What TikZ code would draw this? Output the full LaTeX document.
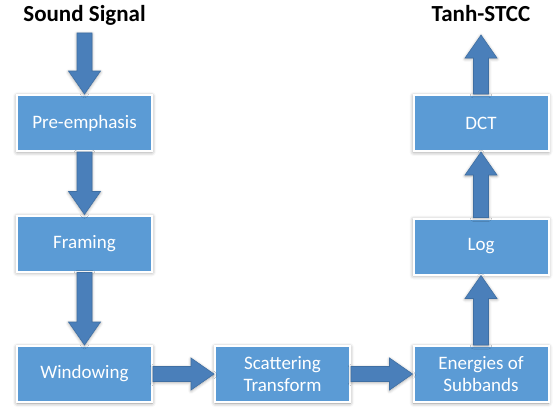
\documentclass[tikz,border=0pt]{standalone}
\usepackage{fontspec}
\setmainfont{Carlito}
\usetikzlibrary{calc,shadows.blur}
\definecolor{boxblue}{HTML}{5B9BD5}
\definecolor{arrowblue}{HTML}{4A7FBA}
\definecolor{arrowedge}{HTML}{3F6FA3}
\newcommand{\blockarr}[2]{%
  \path (#1) coordinate (ba-s) (#2) coordinate (ba-e);
  \coordinate (ba-h) at ($(ba-e)!23pt!(ba-s)$);
  \filldraw[arrowstyle]
    ($(ba-s)!7.5pt!90:(ba-e)$) -- ($(ba-h)!7.5pt!90:(ba-e)$) --
    ($(ba-h)!16pt!90:(ba-e)$) -- (ba-e) --
    ($(ba-h)!16pt!-90:(ba-e)$) -- ($(ba-h)!7.5pt!-90:(ba-e)$) --
    ($(ba-s)!7.5pt!-90:(ba-e)$) -- cycle;
}
\begin{document}
\begin{tikzpicture}[x=1pt,y=1pt,
  stagebox/.style={rectangle, fill=boxblue, draw=white, line width=2pt,
    minimum width=135pt, minimum height=56pt, text=white, align=center,
    font=\fontsize{19}{22}\selectfont,
    blur shadow={shadow xshift=0pt, shadow yshift=-1pt, shadow blur radius=4pt, shadow opacity=45}},
  titletext/.style={anchor=base, font=\bfseries\fontsize{23}{27}\selectfont, text=black},
  arrowstyle/.style={fill=arrowblue, draw=arrowedge, line width=0.6pt,
    blur shadow={shadow xshift=0pt, shadow yshift=-1pt, shadow blur radius=3pt, shadow opacity=35}}
]
\useasboundingbox (0,0) rectangle (553,408);
\node[titletext] (snd) at (84.5,386) {Sound Signal};
\node[titletext] (tanh) at (481,386) {Tanh-STCC};
\coordinate (sndout) at (84.5,375);
\coordinate (tanhin) at (481,373);

\node[stagebox] (pre) at (84.5,285) {Pre-emphasis};
\node[stagebox] (fram) at (84.5,164.5) {Framing};
\node[stagebox] (wind) at (84.5,34) {Windowing};
\node[stagebox] (scat) at (282.5,34) {Scattering\\Transform};
\node[stagebox] (ener) at (481,34) {Energies of\\Subbands};
\node[stagebox] (log) at (481,161.5) {Log};
\node[stagebox] (dct) at (481,285) {DCT};

\blockarr{sndout}{pre.north}
\blockarr{pre.south}{fram.north}
\blockarr{fram.south}{wind.north}
\blockarr{wind.east}{scat.west}
\blockarr{scat.east}{ener.west}
\blockarr{ener.north}{log.south}
\blockarr{log.north}{dct.south}
\blockarr{dct.north}{tanhin}
\end{tikzpicture}
\end{document}
